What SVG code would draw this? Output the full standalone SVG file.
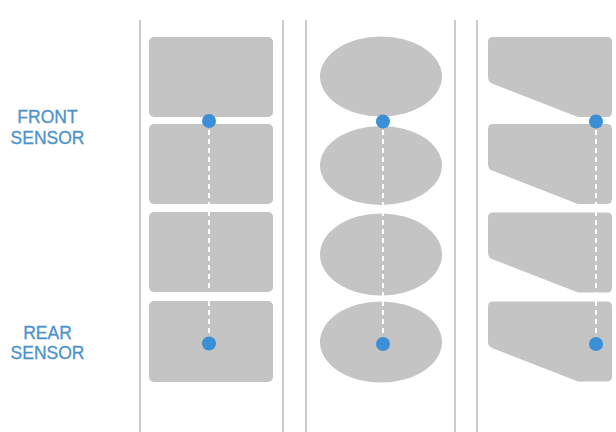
<svg xmlns="http://www.w3.org/2000/svg" xmlns:xlink="http://www.w3.org/1999/xlink" width="616" height="432" viewBox="0 0 616 432">
<style>
.div{stroke:#cbcbcb;stroke-width:2;fill:none}
.blk{fill:#c4c4c4}
.dash{stroke:#ffffff;stroke-width:2;stroke-dasharray:5 4;fill:none}
.dot{fill:#3a8fd6}
.lbl{font-family:"Liberation Sans",Arial,sans-serif;font-size:17.5px;fill:#4a92cc;text-anchor:middle;stroke:#4a92cc;stroke-width:0.3}
</style>
<defs>
<path id="wedge" d="M493,0 H607 Q612,0 612,5 V75 Q612,80 607,80 H578 L492,46.5 Q488,45 488,40 V5 Q488,0 493,0 Z"/>
</defs>
<rect width="616" height="432" fill="#ffffff"/>
<g id="dividers">
<line class="div" x1="140" y1="20" x2="140" y2="432"/>
<line class="div" x1="283" y1="20" x2="283" y2="432"/>
<line class="div" x1="306" y1="20" x2="306" y2="432"/>
<line class="div" x1="455" y1="20" x2="455" y2="432"/>
<line class="div" x1="477" y1="20" x2="477" y2="432"/>
</g>
<g id="label-front"><text class="lbl" x="47.5" y="123">FRONT</text><text class="lbl" x="47.5" y="143.5">SENSOR</text></g>
<g id="label-rear"><text class="lbl" x="47.5" y="338.5">REAR</text><text class="lbl" x="47.5" y="358.5">SENSOR</text></g>
<g id="col-rect">
<rect class="blk" x="149" y="37" width="124" height="80" rx="5"/>
<rect class="blk" x="149" y="124" width="124" height="80" rx="5"/>
<rect class="blk" x="149" y="212" width="124" height="80" rx="5"/>
<rect class="blk" x="149" y="301" width="124" height="81" rx="5"/>
</g>
<g id="col-ellipse">
<ellipse class="blk" cx="381" cy="76.5" rx="61" ry="40"/>
<ellipse class="blk" cx="381" cy="165.5" rx="61" ry="39.5"/>
<ellipse class="blk" cx="381" cy="254.5" rx="61" ry="41"/>
<ellipse class="blk" cx="381" cy="342" rx="61" ry="40.5"/>
</g>
<g id="col-wedge">
<use xlink:href="#wedge" class="blk" y="37"/>
<use xlink:href="#wedge" class="blk" y="124"/>
<use xlink:href="#wedge" class="blk" y="212.5"/>
<use xlink:href="#wedge" class="blk" y="301.5"/>
</g>
<g id="connectors">
<line class="dash" x1="209" y1="121" x2="209" y2="343"/>
<line class="dash" x1="383" y1="121" x2="383" y2="343"/>
<line class="dash" x1="596" y1="121" x2="596" y2="343"/>
</g>
<g id="sensors">
<circle class="dot" cx="209" cy="121" r="7"/>
<circle class="dot" cx="209" cy="343.5" r="7"/>
<circle class="dot" cx="383" cy="121.5" r="7"/>
<circle class="dot" cx="383" cy="344" r="7"/>
<circle class="dot" cx="596" cy="121.5" r="7"/>
<circle class="dot" cx="596" cy="344" r="7"/>
</g>
</svg>
